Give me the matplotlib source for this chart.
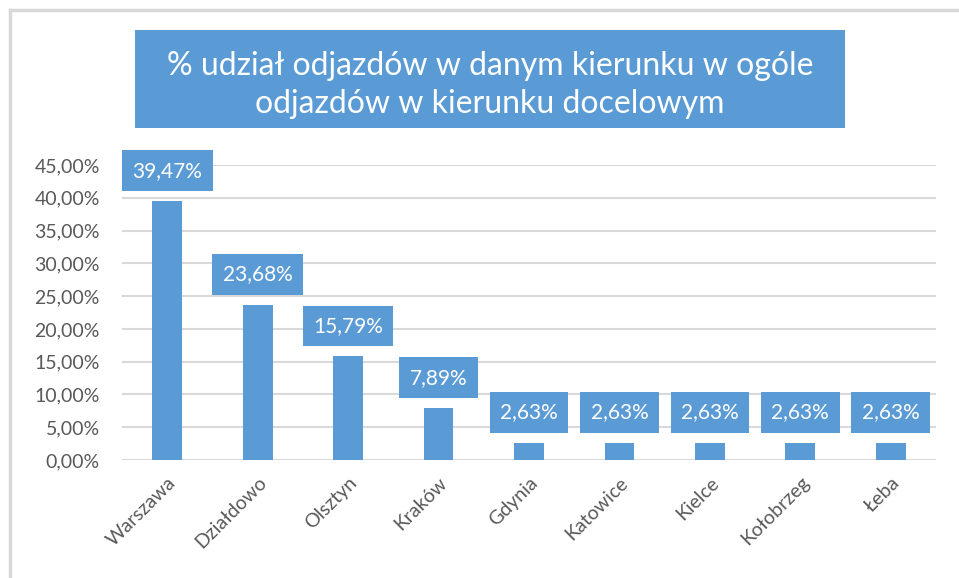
import matplotlib.pyplot as plt
from matplotlib.patches import Rectangle
from matplotlib.lines import Line2D

miasta = ["Warszawa", "Działdowo", "Olsztyn", "Kraków", "Gdynia",
          "Katowice", "Kielce", "Kołobrzeg", "Łeba"]
udzial = [39.47, 23.68, 15.79, 7.89, 2.63, 2.63, 2.63, 2.63, 2.63]
yticks = [0, 5, 10, 15, 20, 25, 30, 35, 40, 45]
tytul = "% udział odjazdów w danym kierunku w ogóle\nodjazdów w kierunku docelowym"

BLUE = "#5B9BD5"
GRAY = "#595959"
GRID = "#D9D9D9"

plt.rcParams['font.family'] = ['Lato', 'DejaVu Sans']

W, H = 959, 578
fig = plt.figure(figsize=(W / 100, H / 100), dpi=100)

# frame lines (top + left)
fig.add_artist(Line2D([10 / W, 1], [1 - 10 / H] * 2, color=GRID, lw=2.5))
fig.add_artist(Line2D([10 / W] * 2, [0, 1 - 10 / H], color=GRID, lw=2.5))

# title box
x0, x1 = 135 / W, 845 / W
yb, yt = 1 - 128 / H, 1 - 30 / H
fig.add_artist(Rectangle((x0, yb), x1 - x0, yt - yb, transform=fig.transFigure,
                         facecolor=BLUE, edgecolor="none"))
fig.text((x0 + x1) / 2, 1 - 85 / H, tytul, color="white", fontsize=23,
         ha="center", va="center", linespacing=1.3)

left, right = 122 / W, 936 / W
bottom, top = 1 - 460 / H, 1 - 165 / H
ax = fig.add_axes([left, bottom, right - left, top - bottom])

x = range(len(miasta))
ax.bar(x, udzial, width=0.33, color=BLUE, zorder=3)
ax.set_xlim(-0.5, len(miasta) - 0.5)
ax.set_ylim(0, 45)
ax.set_yticks(yticks)
ax.set_yticklabels([f"{v:.2f}%".replace(".", ",") for v in yticks])
ax.set_xticks(list(x))
ax.set_xticklabels(miasta, rotation=45, ha="right", va="top",
                   rotation_mode="anchor", fontsize=14.5)
ax.tick_params(axis="both", length=0, colors=GRAY, labelsize=14)
ax.tick_params(axis="y", pad=16)
ax.tick_params(axis="x", pad=10)
ax.grid(axis="y", color=GRID, lw=1.5, zorder=0)
ax.set_axisbelow(True)
for s in ax.spines.values():
    s.set_visible(False)

for i, v in enumerate(udzial):
    ax.annotate(f"{v:.2f}%".replace(".", ","), (i, v), xytext=(0, 22),
                textcoords="offset points", ha="center", va="center",
                color="white", fontsize=15, zorder=5,
                bbox=dict(boxstyle="square,pad=0.5", fc=BLUE, ec="none"),
                annotation_clip=False)

fig.savefig("out.png", dpi=100)
